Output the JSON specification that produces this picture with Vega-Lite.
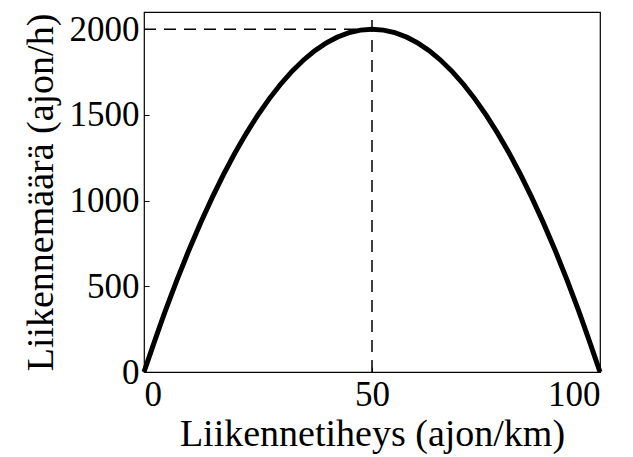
{
  "$schema": "https://vega.github.io/schema/vega-lite/v6.json",
  "width": 456,
  "height": 360,
  "autosize": "none",
  "padding": {"left": 144, "top": 12, "right": 33, "bottom": 85},
  "background": "white",
  "config": {
    "view": {"stroke": "black", "strokeWidth": 1.2},
    "font": "Liberation Serif",
    "axis": {
      "grid": false,
      "domain": false,
      "labelFont": "Liberation Serif",
      "titleFont": "Liberation Serif",
      "labelFontSize": 35,
      "titleFontSize": 38,
      "labelColor": "black",
      "titleColor": "black",
      "titleFontWeight": "normal",
      "tickColor": "black",
      "tickSize": -5,
      "labelPadding": 10
    }
  },
  "layer": [
    {
      "data": {"values": [
        {"k": 0, "q": 0}, {"k": 5, "q": 380}, {"k": 10, "q": 720}, {"k": 15, "q": 1020},
        {"k": 20, "q": 1280}, {"k": 25, "q": 1500}, {"k": 30, "q": 1680}, {"k": 35, "q": 1820},
        {"k": 40, "q": 1920}, {"k": 45, "q": 1980}, {"k": 50, "q": 2000}, {"k": 55, "q": 1980},
        {"k": 60, "q": 1920}, {"k": 65, "q": 1820}, {"k": 70, "q": 1680}, {"k": 75, "q": 1500},
        {"k": 80, "q": 1280}, {"k": 85, "q": 1020}, {"k": 90, "q": 720}, {"k": 95, "q": 380},
        {"k": 100, "q": 0}
      ]},
      "mark": {"type": "line", "color": "black", "strokeWidth": 5, "interpolate": "monotone"},
      "encoding": {
        "x": {"field": "k", "type": "quantitative", "scale": {"domain": [0, 100], "nice": false},
              "axis": {"values": [0, 50, 100], "format": "d", "title": "Liikennetiheys (ajon/km)", "titlePadding": 3}},
        "y": {"field": "q", "type": "quantitative", "scale": {"domain": [0, 2100], "nice": false},
              "axis": {"values": [0, 500, 1000, 1500, 2000], "format": "d", "title": "Liikennemäärä (ajon/h)", "titlePadding": 9}}
      }
    },
    {
      "data": {"values": [{"x1": 0, "x2": 50, "y1": 2000, "y2": 2000}, {"x1": 50, "x2": 50, "y1": 0, "y2": 2100}]},
      "mark": {"type": "rule", "color": "black", "strokeWidth": 1.5, "strokeDash": [12, 8]},
      "encoding": {
        "x": {"field": "x1", "type": "quantitative"},
        "x2": {"field": "x2"},
        "y": {"field": "y1", "type": "quantitative"},
        "y2": {"field": "y2"}
      }
    }
  ]
}
